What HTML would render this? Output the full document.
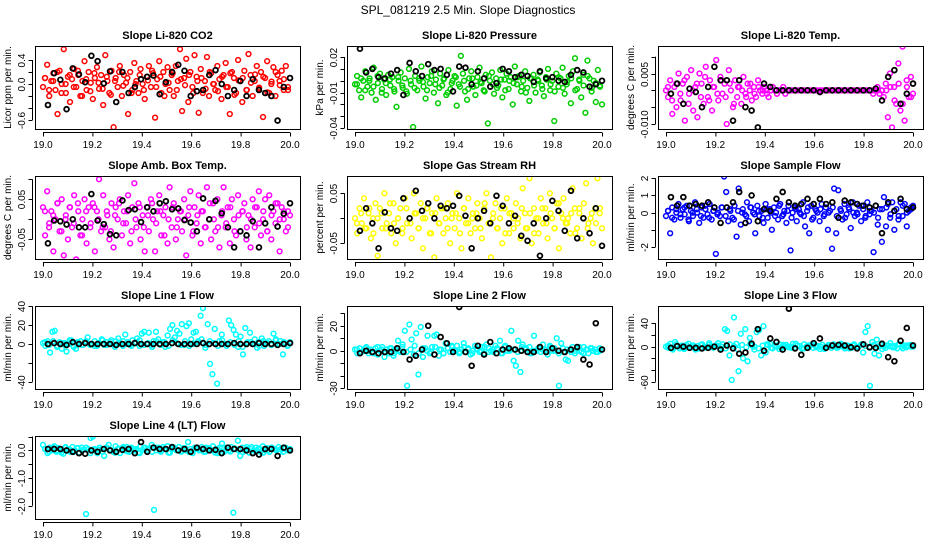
<!DOCTYPE html>
<html><head><meta charset="utf-8"><style>
html,body{margin:0;padding:0;background:#fff;}
svg{display:block;font-family:"Liberation Sans",Arial,sans-serif;}
</style></head><body>
<svg id="chart" width="936" height="540" viewBox="0 0 936 540">
<text x="468" y="14" text-anchor="middle" font-size="12">SPL_081219  2.5 Min. Slope Diagnostics</text>
</svg>
<script>
// ---- data (color series c#, dense-band color series d#, black series k#) ----
const c1=[-0.05,0.1,0.32,-0.2,0.05,0.18,-0.1,-0.5,0.22,0.0,0.58,-0.15,0.12,-0.3,0.08,0.25,-0.05,0.15,-0.2,0.05,0.38,-0.1,0.2,0.02,-0.25,0.1,0.28,-0.08,0.15,-0.35,0.48,0.05,-0.15,0.22,-0.72,0.1,-0.05,0.3,-0.2,0.15,0.02,-0.5,0.2,-0.1,0.35,0.05,-0.15,0.25,0.0,-0.25,0.12,0.3,-0.05,0.18,-0.56,0.08,0.38,-0.15,0.2,0.0,0.28,-0.1,0.15,-0.2,0.3,0.05,0.58,-0.45,0.1,0.42,-0.3,0.2,-0.05,0.48,0.12,-0.48,0.25,-0.15,0.05,0.45,-0.2,0.18,0.0,-0.1,0.3,0.08,-0.25,0.15,0.35,-0.05,-0.5,0.2,0.1,-0.15,0.4,0.05,-0.3,0.22,-0.1,0.5,0.15,-0.2,0.05,0.3,-0.08,0.2,-0.55,0.1,0.38,-0.15,0.0,0.28,-0.2,0.15,0.05,0.22,-0.1,0.3,-0.05,0.1];
const d1=[0.1,-0.1,0.05,0.2,-0.15,0.0,0.15,-0.05,0.22,-0.2,0.08,-0.12,0.18,0.02,-0.08,0.12,-0.18,0.05,0.2,-0.03,0.1,-0.15,0.0,0.15,-0.1,0.06,0.22,-0.05,0.12,-0.2,0.02,0.18,-0.1,0.08,-0.02,0.15,-0.15,0.05,0.1,-0.08,0.2,0.0,-0.12,0.12,-0.05,0.18,-0.18,0.06,0.1,-0.1,0.02,0.16,-0.06,0.12,-0.14,0.04,0.2,-0.02,0.08,-0.1];
const k1=[-0.35,0.18,0.07,-0.42,0.26,0.16,0.03,0.47,0.38,0.01,0.21,-0.3,0.2,-0.15,-0.05,0.08,0.12,0.14,-0.17,0.03,0.2,0.32,0.22,-0.2,-0.12,-0.1,0.15,0.23,0.0,-0.2,-0.1,0.05,-0.2,0.08,-0.1,-0.15,-0.2,-0.61,-0.05,0.1];
const c2=[-0.003,0.004,-0.008,-0.014,0.0,0.008,-0.005,0.002,-0.01,0.011,-0.016,-0.002,0.006,-0.007,0.001,-0.012,0.005,-0.004,0.003,-0.009,-0.022,0.0,0.007,-0.006,0.002,-0.011,0.01,-0.003,-0.039,0.004,-0.008,0.0,0.012,-0.005,-0.015,0.003,-0.002,0.008,-0.01,0.001,-0.019,0.006,-0.004,0.002,-0.012,0.009,-0.007,0.0,0.004,-0.021,-0.003,0.021,0.006,-0.009,-0.016,0.002,0.008,-0.005,-0.012,0.003,0.011,-0.002,-0.008,0.005,-0.036,0.0,0.007,-0.011,0.002,-0.004,0.009,-0.014,0.001,0.006,-0.007,0.003,-0.02,0.012,-0.003,0.004,-0.009,0.0,0.008,-0.006,-0.017,0.002,0.005,-0.01,0.001,0.007,-0.004,-0.013,0.003,0.01,-0.008,0.0,-0.034,0.006,-0.005,0.002,0.011,-0.011,-0.003,0.004,-0.019,0.008,0.019,-0.007,0.001,-0.014,0.005,-0.027,0.017,0.002,-0.009,0.0,-0.018,0.009,-0.004,-0.02];
const d2=[-0.003,0.002,-0.008,0.0,-0.005,0.004,-0.01,-0.002,0.001,-0.007,0.003,-0.004,-0.009,0.0,-0.006,0.002,-0.001,-0.008,0.004,-0.003,-0.006,0.001,-0.01,-0.002,0.003,-0.005,0.0,-0.007,0.002,-0.004,-0.001,-0.009,0.004,-0.003,-0.006,0.001,-0.008,0.0,-0.002,0.003,-0.005,-0.01,0.002,-0.004,0.0,-0.007,0.001,-0.003,-0.009,0.003,-0.006,-0.001,0.002,-0.008,0.0,-0.004,0.004,-0.006,-0.002,-0.005];
const k2=[0.027,0.007,0.01,0.003,0.002,0.006,0.009,-0.012,0.015,0.008,0.004,0.014,0.009,0.01,0.005,-0.009,0.012,0.011,-0.003,0.008,0.002,-0.005,-0.002,0.01,0.008,0.003,0.005,0.004,-0.001,0.008,0.002,0.003,0.0,-0.001,0.005,0.009,0.007,-0.005,-0.003,0.0];
const c3=[0.0,-0.002,0.003,-0.007,0.001,-0.005,0.005,-0.003,0.002,-0.009,0.004,-0.001,0.006,-0.006,0.001,-0.008,0.005,0.002,-0.004,0.007,-0.002,0.003,-0.006,0.001,0.009,-0.003,0.004,-0.001,0.002,-0.01,0.006,0.0,-0.005,0.003,-0.002,0.001,-0.004,0.004,-0.001,0.002,0.0,-0.003,0.001,-0.002,0.003,0.0,-0.001,0.001,0.0,-0.002,0.0,0.001,0.0,-0.001,0.0,0.0,0.001,-0.001,0.0,0.0,0.0,0.0,0.0,0.0,0.0,0.0,0.0,0.0,0.0,0.0,0.0,0.0,0.0,0.0,0.0,0.0,0.0,0.0,0.0,0.0,0.0,0.0,0.0,0.0,0.0,0.0,0.0,0.0,0.0,0.0,0.0,0.0,0.0,0.0,0.0,0.0,0.0,0.0,0.0,-0.001,0.0,0.001,-0.001,0.0,-0.002,0.002,-0.008,0.005,-0.011,0.001,-0.004,0.008,-0.006,0.013,-0.009,0.003,-0.002,0.004,-0.001];
const d3=[0.001,-0.003,0.002,-0.001,0.003,-0.004,0.0,0.002,-0.002,0.004,-0.003,0.001,-0.001,0.003,-0.002,0.002,-0.004,0.001,0.0,-0.002,0.002,-0.001,0.001,0.0,-0.001,0.0,0.0,0.0,0.0,0.0,0.0,0.0,0.0,0.0,0.0,0.0,0.0,0.0,0.0,0.0,0.0,0.0,0.0,0.0,0.0,0.0,0.0,0.0,0.0,0.0,0.0,0.0,0.0,0.0,0.001,-0.003,0.002,-0.004,0.001,-0.002];
const k3=[-0.001,0.002,-0.004,0.0005,-0.0005,-0.005,0.001,0.007,0.003,0.003,-0.009,0.003,-0.005,-0.006,-0.011,0.002,0.001,0,0,0,0,0,0,0,-0.0005,0,0,0,0,0,0,0,0,0.0005,-0.003,0.004,0.006,-0.004,-0.001,0.002];
const c4=[0.03,-0.04,0.07,-0.01,0.02,-0.08,0.0,0.04,-0.03,0.05,-0.09,0.01,-0.05,0.03,-0.02,0.06,-0.1,0.02,-0.04,0.0,0.05,-0.06,0.03,-0.01,0.04,-0.08,0.02,0.1,-0.03,0.06,-0.02,0.01,-0.05,0.04,-0.07,0.03,0.0,0.05,-0.04,0.02,-0.01,0.06,-0.06,0.03,0.09,-0.02,0.04,-0.05,0.01,-0.08,0.03,-0.03,0.05,0.0,-0.08,0.02,0.06,-0.04,0.01,0.03,-0.06,0.08,-0.02,0.04,-0.05,0.0,0.02,-0.03,0.05,-0.09,0.01,0.07,-0.04,0.03,-0.01,0.06,-0.06,0.02,-0.02,0.08,0.0,-0.05,0.04,-0.03,0.05,-0.07,0.01,0.08,-0.02,0.03,-0.06,0.05,0.0,-0.04,0.06,-0.03,0.02,0.04,-0.05,0.01,-0.07,0.05,-0.02,0.03,0.07,-0.04,0.0,0.05,-0.03,0.06,-0.05,0.02,-0.01,0.04,-0.08,0.03,0.0,-0.03,0.02,0.01];
const d4=[0.02,-0.02,0.01,0.04,-0.03,0.0,0.03,-0.01,0.04,-0.04,0.02,-0.02,0.03,0.0,-0.02,0.02,-0.03,0.01,0.04,-0.01,0.02,-0.03,0.0,0.03,-0.02,0.01,0.04,-0.01,0.02,-0.04,0.0,0.03,-0.02,0.02,0.0,0.03,-0.03,0.01,0.02,-0.02,0.04,0.0,-0.02,0.02,-0.01,0.03,-0.03,0.01,0.02,-0.02,0.0,0.03,-0.01,0.02,-0.03,0.01,0.04,0.0,0.02,-0.02];
const k4=[-0.06,-0.003,-0.005,-0.013,0.0,-0.02,-0.02,0.063,-0.003,-0.012,-0.037,-0.04,0.047,0.023,0.025,-0.007,0.03,0.02,0.04,0.045,0.025,0.027,-0.002,-0.008,-0.03,0.052,0.0,0.046,0.015,-0.02,-0.07,-0.03,-0.04,-0.005,-0.07,-0.01,0.03,-0.018,0.014,0.04];
const c5=[0.0,-0.03,0.02,-0.01,0.04,-0.02,0.01,-0.04,0.0,0.03,-0.075,0.02,-0.02,0.05,-0.01,0.01,-0.03,0.03,-0.05,0.0,0.02,-0.02,0.04,-0.01,0.0,-0.04,0.05,0.01,-0.02,0.03,-0.06,0.0,0.02,-0.03,0.01,-0.078,0.04,-0.01,0.02,-0.03,0.0,0.03,-0.05,0.01,-0.02,0.05,0.0,-0.06,0.02,-0.01,0.04,-0.03,0.01,-0.02,0.03,0.0,-0.04,0.02,0.05,-0.01,-0.078,0.01,0.03,-0.02,0.0,-0.05,0.02,0.04,-0.03,0.01,-0.02,0.03,0.0,-0.04,0.06,0.01,-0.02,0.08,-0.05,0.02,0.0,-0.03,0.04,-0.01,0.02,-0.04,0.05,0.0,-0.02,0.03,-0.06,0.01,0.04,-0.01,0.0,-0.03,0.06,0.02,-0.02,0.01,-0.04,0.03,0.07,-0.01,0.0,-0.05,0.02,0.08,0.01,-0.02];
const d5=[-0.01,0.01,-0.02,0.02,-0.03,0.0,0.01,-0.02,0.03,-0.01,0.0,-0.03,0.02,-0.01,0.01,-0.02,0.0,0.02,-0.03,0.01,-0.01,0.02,-0.02,0.0,0.01,-0.03,0.02,-0.01,0.0,0.01,-0.02,0.03,-0.01,0.0,-0.02,0.02,-0.03,0.01,0.0,-0.01,0.02,-0.02,0.01,-0.03,0.0,0.02,-0.01,0.01,-0.02,0.03,0.0,-0.01,0.01,-0.03,0.02,0.0,-0.02,0.01,-0.01,0.02];
const k5=[-0.025,0.02,-0.01,-0.06,0.012,-0.02,-0.025,0.04,0.0,0.055,0.015,0.03,0.0,0.025,0.02,0.025,0.045,0.005,-0.06,0.0,0.015,-0.01,0.045,0.025,-0.01,0.005,-0.035,-0.045,-0.01,-0.075,0.0,0.035,0.015,-0.025,0.055,-0.04,0.0,-0.03,0.02,-0.055];
const c6=[-0.2,0.1,-1.2,0.3,-0.4,0.0,0.5,-0.3,0.2,-0.1,0.4,-0.5,0.1,-0.2,0.6,0.0,-0.6,0.3,-0.3,0.2,-0.1,0.5,-0.4,0.1,-2.4,0.0,-0.2,0.3,2.1,1.2,-0.5,0.1,-0.3,0.4,-1.4,1.4,-0.7,0.2,-0.1,0.6,-0.5,0.3,0.0,-1.2,0.4,-0.2,0.1,-0.6,0.5,-0.3,0.2,-1.0,0.3,0.0,-0.4,0.5,-0.2,0.1,-0.6,0.4,-2.2,0.0,0.3,-0.5,0.2,-0.1,0.6,-0.8,0.1,-1.2,0.4,-0.3,0.2,0.0,-0.5,0.5,-0.2,0.3,-1.0,0.1,-2.1,1.4,-1.2,1.3,0.2,-0.4,0.5,-0.1,0.3,-0.9,0.6,-0.2,0.0,0.4,-0.5,0.2,-0.3,0.6,-0.1,0.1,-2.3,0.4,-0.7,0.2,-1.7,0.9,-0.8,0.5,-0.3,0.6,-1.0,0.2,-0.4,0.6,-0.2,0.5,-0.8,0.1,0.3,0.4];
const d6=[0.1,-0.3,0.2,-0.1,0.3,-0.4,0.0,0.2,-0.2,0.4,-0.3,0.1,-0.1,0.3,-0.2,0.2,-0.4,0.1,0.0,-0.2,0.3,-0.1,0.1,-0.3,0.2,0.0,-0.2,0.4,-0.1,0.1,-0.3,0.2,0.0,-0.2,0.3,-0.4,0.1,0.2,-0.1,0.0,0.3,-0.2,0.1,-0.3,0.2,0.0,-0.1,0.4,-0.2,0.1,0.0,-0.3,0.2,0.3,-0.1,0.1,-0.2,0.4,0.0,0.2];
const k6=[0.9,0.4,0.9,0.4,0.5,0.4,0.6,0.3,-0.6,0.3,0.6,1.2,-0.6,1.0,-0.5,0.2,0.1,0.8,1.2,0.6,0.4,0.5,0.8,0.5,0.8,0.5,0.6,-0.3,0.7,0.6,0.5,0.4,0.3,0.4,-1.2,0.6,0.1,0.8,0.2,0.3];
const c7=[1,-2,3,-9,13,14,-3,2,-5,1,-8,0,4,-2,-5,1,3,-1,2,7,-1,0,3,-2,1,5,-1,2,0,4,-1,3,6,0,-2,10,2,-1,4,1,6,-2,11,13,0,12,-1,3,13,5,-1,2,-3,9,16,20,7,14,11,21,-1,19,22,5,12,13,3,30,38,-4,21,-21,-32,16,-42,3,10,0,-2,25,20,15,10,-3,8,-11,17,2,12,0,5,-4,2,6,-2,1,3,-1,11,5,0,3,-11,1,-2,2];
const d7=[2,-1,3,-2,1,0,4,-3,2,-1,3,0,-2,1,4,-1,2,-3,1,3,0,-2,2,4,-1,1,-3,3,0,2,-2,4,1,-1,3,-2,0,2,5,-1,3,1,-2,4,0,2,-1,3,-3,1,2,0,-2,3,1,-1,4,0,2,-1];
const k7=[0,1,0,-1,2,0,1,0,0,0,0,-1,0,0,1,0,0,0,0,0,1,0,0,0,0,1,0,0,0,0,1,0,0,0,1,0,0,-1,0,1];
const c8=[1,-2,2,-1,0,3,-2,1,-1,2,-3,0,3,-5,1,-2,2,-4,1,8,-1,5,16,-28,21,9,-3,14,-19,19,-5,2,12,-2,3,12,13,-4,1,-2,6,2,-1,3,0,4,-2,1,6,-1,2,-3,0,4,1,-1,3,-2,5,2,0,-1,4,1,8,-2,3,0,1,16,-8,-12,8,-17,5,1,-1,3,-2,12,0,2,-1,5,1,-3,4,0,2,10,-28,6,-1,-7,-8,1,3,-2,2,0,-1,3,1,-2,2,0,1,-1,2,1];
const d8=[1,-1,2,0,-2,3,1,-1,2,-2,0,3,-1,1,4,-2,2,0,-1,3,1,-2,2,4,0,-1,3,1,-2,2,0,3,-1,1,2,-2,4,0,1,-1,3,2,-2,0,2,1,-1,3,0,-2,2,1,-1,0,3,-2,1,2,-1,0];
const k8=[-2,0,-1,-2,-1,-1,2,-1,-7,-4,1,20,-3,11,6,-1,35,-1,-12,4,-3,7,-2,1,2,1,0,-1,-1,3,-1,2,0,-1,1,3,-7,-11,22,1];
const c9=[0,-2,5,-5,8,1,-3,2,-4,3,-1,0,2,-5,1,-3,4,0,-2,3,1,-1,2,6,-3,4,30,27,-15,-57,50,5,-42,22,-20,30,-25,15,2,-5,25,28,-15,35,-10,3,5,-3,2,0,4,-2,1,3,-1,0,5,-2,2,1,-3,4,0,-1,3,-2,2,1,-4,3,-1,0,2,-2,4,1,-1,3,0,-3,2,1,-2,4,-1,0,3,-10,25,35,-67,8,-12,12,-15,3,0,-2,2,6,-1,1,-3,4,0,2,-1,1,3,0];
const d9=[2,-3,4,0,-2,5,1,-4,3,-1,6,-2,2,0,-3,4,1,-5,3,-1,5,0,-3,2,4,-2,1,-4,3,0,-2,5,1,-3,2,4,-1,0,-4,3,1,-2,5,0,-3,2,-1,4,1,-2,3,0,-4,2,1,-1,4,-3,2,0];
const k9=[-2,1,0,-2,-2,-3,-2,0,-5,2,-3,-12,-10,5,30,-7,14,8,-5,65,-3,-14,-2,6,14,-2,2,3,2,-1,-3,4,-1,-2,5,-18,-25,10,32,2];
const c10=[0.2,0.05,-0.1,0.1,0.0,0.15,-0.05,0.08,0.0,-0.12,0.1,0.05,-0.05,0.12,0.0,0.08,-0.08,0.1,0.03,-2.3,0.05,0.45,0.5,0.0,-0.1,0.1,0.05,-0.2,0.1,0.2,0.0,-0.05,0.15,0.05,-0.1,0.08,0.0,0.12,-0.05,0.1,0.0,0.05,-0.08,0.15,0.02,0.1,-0.05,0.08,0.2,-2.15,0.0,0.1,-0.05,0.12,0.05,0.15,-0.08,0.05,0.1,0.0,0.12,-0.05,0.08,0.0,0.3,0.05,-0.1,0.1,0.05,0.0,0.12,-0.05,0.1,0.08,0.0,0.15,-0.08,0.05,0.1,0.25,-0.05,0.1,0.0,0.12,-2.25,0.05,0.35,-0.2,0.1,0.0,0.05,-0.08,0.12,0.0,0.1,0.05,-0.05,0.15,0.0,0.08,-0.05,0.1,0.05,0.0,0.12,0.05,-0.05,0.1,0.0,0.05];
const d10=[0.05,-0.05,0.1,0.0,-0.08,0.12,0.03,-0.05,0.08,0.0,0.1,-0.1,0.05,0.02,-0.05,0.1,0.0,-0.08,0.06,0.12,-0.03,0.05,0.0,-0.1,0.08,0.02,-0.05,0.1,0.0,0.06,-0.08,0.12,0.03,-0.02,0.08,-0.06,0.0,0.1,0.04,-0.05,0.06,0.0,-0.1,0.1,0.02,-0.04,0.08,0.0,-0.06,0.12,0.05,-0.02,0.07,-0.08,0.0,0.1,0.03,-0.05,0.06,0.0];
const k10=[0.05,0.05,0.05,0.0,-0.05,-0.1,-0.12,0.0,-0.05,0.05,0.0,-0.05,0.02,0.05,-0.1,0.3,-0.05,0.1,0.05,0.05,0.12,0.0,0.05,-0.05,0.1,0.05,0.0,0.02,-0.1,0.1,0.05,0.05,0.0,-0.1,-0.15,0.05,0.05,-0.2,0.1,0.0];

const titles=["Slope Li-820 CO2","Slope Li-820 Pressure","Slope Li-820 Temp.","Slope Amb. Box Temp.","Slope Gas Stream RH","Slope Sample Flow","Slope Line 1 Flow","Slope Line 2 Flow","Slope Line 3 Flow","Slope Line 4 (LT) Flow"];
const ylabs=["Licor ppm per min.","kPa per min.","degrees C per min.","degrees C per min.","percent per min.","ml/min per min.","ml/min per min.","ml/min per min.","ml/min per min.","ml/min per min."];
const yticks=[[-0.6,-0.4,-0.2,0,0.2,0.4],[-0.04,-0.03,-0.02,-0.01,0,0.01,0.02],[-0.01,-0.005,0,0.005,0.01],[-0.05,0,0.05,0.1],[-0.05,0,0.05],[-2,-1,0,1,2],[-40,-20,0,20,40],[-30,-20,-10,0,10,20,30],[-60,-40,-20,0,20,40],[-2,-1.5,-1,-0.5,0,0.5]];
const ytickLabels=[["-0.6","","","0.0","","0.4"],["-0.04","","","-0.01","","","0.02"],["-0.010","","","0.005",""],["-0.05","","0.05",""],["-0.05","","0.05"],["-2","","0","1","2"],["-40","","0","20","40"],["-30","","","0","","20",""],["-60","","","0","","40"],["-2.0","","-1.0","","0.0",""]];
const xticks=[19.0,19.2,19.4,19.6,19.8,20.0];
const xtickLabels=["19.0","19.2","19.4","19.6","19.8","20.0"];
const colors=["#ff0000","#00cd00","#ff00ff","#ff00ff","#ffff00","#0000ff","#00ffff","#00ffff","#00ffff","#00ffff"];
const ylims=[[-0.75,0.633],[-0.0407,0.0293],[-0.01148,0.01317],[-0.099,0.108],[-0.0814,0.0846],[-2.70,2.13],[-47.7,40.3],[-30.6,35.8],[-72.5,69.6],[-2.48,0.52]];
const colorSeries=[c1,c2,c3,c4,c5,c6,c7,c8,c9,c10];
const bandSeries=[d1,d2,d3,d4,d5,d6,d7,d8,d9,d10];
const blackSeries=[k1,k2,k3,k4,k5,k6,k7,k8,k9,k10];

const NS="http://www.w3.org/2000/svg";
const svg=document.getElementById('chart');
const colL=[35,347,658], rowT=[46,176,306,436], W=265, H=83;
function mk(tag,attrs,parent){const e=document.createElementNS(NS,tag);for(const k in attrs)e.setAttribute(k,attrs[k]);(parent||svg).appendChild(e);return e;}

for(let p=0;p<10;p++){
  const L=colL[p%3], T=rowT[Math.floor(p/3)], B=T+H;
  const g=mk('g',{});
  
  
  const xs=v=>L+8+(v-19)*247;
  const ys=v=>B-(v-ylims[p][0])/(ylims[p][1]-ylims[p][0])*H;
  const cp=mk('clipPath',{id:'cp'+p},g); mk('rect',{x:L,y:T,width:W,height:H},cp);
  const pts=mk('g',{'clip-path':'url(#cp'+p+')',fill:'none','stroke-width':1.5},g);
  
  
  const cs=colorSeries[p];
  for(let i=0;i<cs.length;i++){
    const c=mk('circle',{cx:xs(19+i/(cs.length-1)),cy:ys(cs[i]),r:2.4,stroke:colors[p]},pts);
    
    
  }
  const ds=bandSeries[p];
  for(let i=0;i<ds.length;i++){
    const c=mk('circle',{cx:xs(19.008+i*0.984/(ds.length-1)),cy:ys(ds[i]),r:2.4,stroke:colors[p]},pts);
    
    
  }
  const ks=blackSeries[p];
  for(let i=0;i<ks.length;i++){
    const c=mk('circle',{cx:xs(19.02+i*0.98/(ks.length-1)),cy:ys(ks[i]),r:2.4,stroke:'#000','stroke-width':1.8},pts);
    
    
  }
  const box=mk('rect',{x:L+0.5,y:T+0.5,width:W,height:H,fill:'none',stroke:'#000','stroke-width':1},g);
  
  
  const t=mk('text',{x:L+W/2,y:T-7,'text-anchor':'middle','font-size':11,'font-weight':'bold'},g);
  t.textContent=titles[p];
  
  
  const ax=B+3.5;
  mk('line',{x1:xs(19),x2:xs(20),y1:ax,y2:ax,stroke:'#000'},g);
  xticks.forEach((v,i)=>{
    mk('line',{x1:xs(v)+0.5,x2:xs(v)+0.5,y1:ax,y2:ax+4,stroke:'#000'},g);
    const tl=mk('text',{x:xs(v),y:B+19,'text-anchor':'middle','font-size':10},g);
    tl.textContent=xtickLabels[i];
    
    
  });
  const yt=yticks[p], ayx=L-2.5;
  mk('line',{x1:ayx,x2:ayx,y1:ys(yt[0]),y2:ys(yt[yt.length-1]),stroke:'#000'},g);
  yt.forEach((v,i)=>{
    const y=Math.round(ys(v))+0.5;
    mk('line',{x1:ayx-4,x2:ayx,y1:y,y2:y,stroke:'#000'},g);
    if(ytickLabels[p][i]){
      const tl=mk('text',{x:0,y:0,'text-anchor':'middle','font-size':10,transform:'translate('+(L-10)+','+y+') rotate(-90)'},g);
      tl.textContent=ytickLabels[p][i];
      
      
    }
  });
  const yl=mk('text',{x:0,y:0,'text-anchor':'middle','font-size':10,transform:'translate('+(L-24)+','+(T+H/2)+') rotate(-90)'},g);
  yl.textContent=ylabs[p];
  
  
}
</script>
</body></html>
